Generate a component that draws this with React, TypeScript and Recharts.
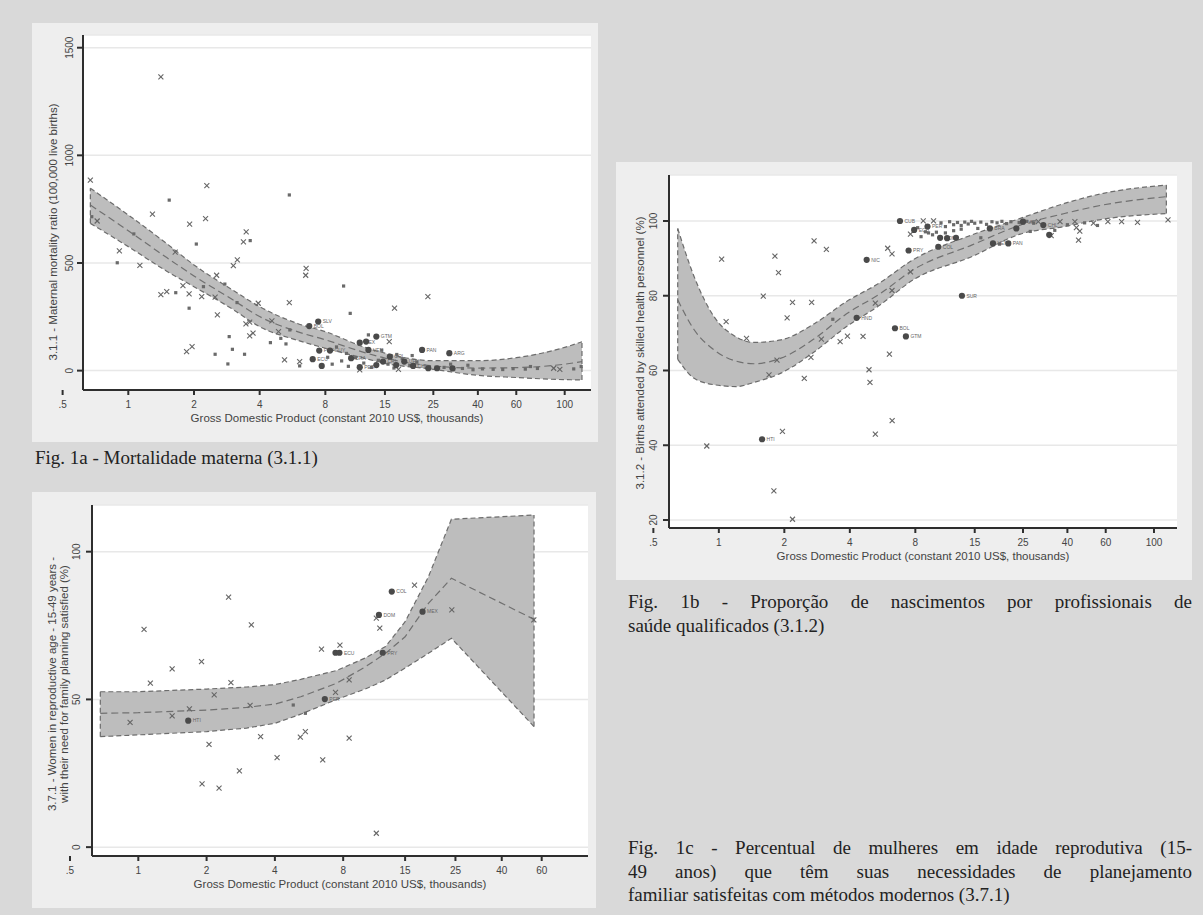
import { ComposedChart, Area, Line, Scatter, XAxis, YAxis, CartesianGrid, ReferenceLine } from "recharts";

const SANS = '"Liberation Sans", Arial, sans-serif';
const SERIF = '"Liberation Serif", "Times New Roman", serif';

const gdpTicks = [0.5, 1, 2, 4, 8, 15, 25, 40, 60, 100];
const gdpTicksShort = [0.5, 1, 2, 4, 8, 15, 25, 40, 60];
const gdpTitle = "Gross Domestic Product (constant 2010 US$, thousands)";

// Fig 1a - 3.1.1 maternal mortality ratio
const mmrTicks = [0, 500, 1000, 1500];
const mmrTitle = ["3.1.1 - Maternal mortality ratio (100,000 live births)"];
const mmrCrosses: [number, number][] = [
  [0.67, 885], [1.41, 1365], [0.72, 695], [2.29, 859], [1.29, 727], [2.26, 706], [1.91, 681], [3.47, 645],
  [3.37, 598], [0.91, 556], [1.13, 489], [1.64, 550], [3.16, 514], [3.03, 488], [2.54, 443], [1.78, 395],
  [1.41, 353], [1.5, 367], [1.9, 356], [2.17, 344], [2.5, 341], [3.94, 313], [2.56, 259], [3.46, 217],
  [3.6, 225], [4.55, 231], [3.6, 161], [3.73, 174], [4.88, 181], [6.53, 475], [6.5, 443], [5.47, 316],
  [1.85, 88], [1.96, 111], [5.2, 50], [6.1, 42], [16.6, 290], [23.6, 344], [15.7, 135], [17.3, 6],
  [11.5, 3], [89, 11], [95, 6],
];
const mmrSquares: [number, number][] = [
  [0.68, 715], [1.54, 792], [5.47, 816], [1.06, 635], [3.62, 604], [2.05, 588], [0.89, 501], [2.77, 402],
  [1.65, 362], [2.21, 390], [3.15, 316], [1.9, 290], [2.9, 158], [4.48, 130], [5.0, 150], [5.28, 124],
  [5.5, 189], [2.5, 76], [3.0, 99], [3.41, 76], [2.86, 31], [9.7, 393], [10.4, 266], [6.1, 22], [12.6, 166],
  [8.6, 30], [9.5, 45], [10.2, 20], [11, 60], [12, 35], [13, 15], [14, 48], [15.5, 30], [16.5, 12],
  [18, 55], [19.5, 25], [21, 40], [24, 18], [26, 8], [28, 15], [31, 5], [34, 10], [38, 4], [42, 8],
  [47, 6], [52, 5], [58, 9], [66, 7], [75, 10], [110, 8], [9, 110], [10, 80], [14.5, 95], [17, 75],
  [20, 70], [8.2, 62], [12.5, 100], [30, 30], [36, 25], [69.7, 19], [119, 19],
];
const mmrDots: [number, number, string][] = [
  [7.42, 228, "SLV"], [6.75, 207, "BOL"], [7.5, 93, "PRY"], [8.4, 93, "GUY"], [7.0, 53, "ECU"], [7.7, 22, ""],
  [11.5, 130, "MEX"], [12.3, 135, ""], [13.7, 158, "GTM"], [10.5, 58, "BRA"], [11.5, 16, "PER"], [12.6, 96, "VEN"],
  [13.7, 26, ""], [14.7, 42, "CRI"], [15.8, 65, "COL"], [16.9, 26, ""], [18.4, 42, "URY"], [20.2, 22, "CHL"],
  [22.2, 96, "PAN"], [29.6, 81, "ARG"], [23.7, 11, ""], [26, 11, ""], [30.6, 11, ""],
];
const mmrFitX = [0.67, 1.0, 1.5, 2.0, 3.0, 4.0, 6.0, 8.0, 12, 15, 25, 40, 60, 100, 120];
const mmrFitLo = [684, 576, 462, 390, 286, 204, 140, 104, 58, 34, 6, -22, -32, -42, -43];
const mmrFitMid = [769, 650, 525, 440, 330, 251, 180, 143, 85, 58, 22, 12, 14, 30, 42];
const mmrFitHi = [847, 723, 590, 491, 375, 297, 218, 181, 110, 81, 46, 46, 60, 108, 134];

// Fig 1b - 3.1.2 skilled birth attendance
const sbaTicks = [20, 40, 60, 80, 100];
const sbaTitle = ["3.1.2 - Births attended by skilled health personnel (%)"];
const sbaCrosses: [number, number][] = [
  [0.88, 39.8], [1.03, 89.8], [1.08, 73.1], [1.34, 68.6], [1.6, 79.9], [1.81, 90.6], [1.88, 86.2], [1.79, 27.8],
  [2.18, 20.2], [1.96, 43.7], [2.06, 74.1], [1.85, 62.8], [1.7, 58.8], [2.18, 78.2], [2.47, 57.9], [2.67, 78.2],
  [2.74, 94.7], [3.12, 92.4], [2.65, 63.5], [2.96, 68.4], [3.61, 67.7], [3.9, 69.2], [4.6, 69.1], [4.9, 60.2],
  [4.95, 56.8], [5.24, 43.0], [5.24, 78.0], [6.08, 64.4], [6.26, 46.6], [6.25, 81.4], [5.97, 92.7], [6.25, 91.2],
  [7.6, 96.5], [7.6, 86.4], [8.7, 100], [9.7, 100], [29.4, 99.8], [33.7, 96.1], [37, 99.8], [43.3, 99.8],
  [44, 98.2], [45, 94.9], [45.6, 97.3], [52.7, 99.4], [61.4, 99.8], [71, 99.8], [84, 99.6], [116, 100.3],
];
const sbaSquares: [number, number][] = [
  [3.34, 73.7], [8.9, 97.1], [9.6, 96.3], [10.5, 99.5], [11, 98.5], [11.5, 99.8], [12, 99], [12.5, 99.6],
  [13, 98.8], [13.5, 99.7], [14, 99.2], [14.5, 99.9], [15, 99.4], [16, 99.7], [17, 99.1], [18, 99.8],
  [19, 99.5], [20, 99.9], [21, 99.3], [22, 99.8], [24, 99.6], [26, 99.9], [28, 99.4], [10, 97],
  [11, 96.8], [12, 97.4], [13, 97.8], [15.5, 98], [8.2, 98.2], [8.5, 95.8], [9.2, 96.8], [35, 97.5],
  [40, 99], [48, 99.5], [55, 98.8], [16, 95.5], [19.5, 93.8], [27, 97.2],
];
const sbaDots: [number, number, string][] = [
  [1.58, 41.6, "HTI"], [4.3, 74.1, "HND"], [4.78, 89.6, "NIC"], [6.45, 71.3, "BOL"], [7.24, 69.1, "GTM"],
  [6.8, 100, "CUB"], [7.45, 92.1, "PRY"], [7.9, 97.6, "ECU"], [13.1, 80, "SUR"], [9.1, 98.5, "PER"],
  [10.4, 95.5, "DOM"], [10.2, 93.1, "COL"], [11.2, 95.4, ""], [12.3, 95.5, ""], [18.2, 94, "VEN"],
  [21.4, 94, "PAN"], [17.6, 98, "BRA"], [23.3, 98, ""], [25, 99.8, "URY"], [31, 98.9, "CHL"], [33, 96.3, ""],
];
const sbaFitX = [0.647, 0.77, 0.95, 1.2, 1.45, 1.93, 2.76, 3.85, 5.5, 7.8, 14.6, 24.3, 38.8, 58.5, 114];
const sbaFitLo = [63.0, 57.9, 56.2, 55.7, 56.8, 59.3, 65.1, 71.7, 77.5, 84.2, 90.5, 96.5, 98.5, 100.5, 102];
const sbaFitMid = [78.9, 70.9, 65.5, 62.5, 61.8, 63.3, 68.6, 75.1, 80.5, 86.9, 93.6, 98.9, 102, 104.3, 106.5];
const sbaFitHi = [98.0, 85.1, 74.4, 69.0, 67.5, 68.2, 72.6, 78.4, 83.5, 89.6, 96.3, 100.7, 104.7, 107.4, 109.6];

// Fig 1c - 3.7.1 family planning satisfied
const fpTicks = [0, 50, 100];
const fpTitle = ["3.7.1 - Women in reproductive age - 15-49 years -", "with their need for family planning satisfied (%)"];
const fpCrosses: [number, number][] = [
  [0.92, 42.2], [1.06, 73.7], [1.13, 55.5], [1.41, 60.3], [1.41, 44.4], [1.68, 46.8], [1.9, 62.8], [1.91, 21.4],
  [2.05, 34.8], [2.16, 51.5], [2.27, 20.0], [2.5, 84.6], [2.56, 55.7], [2.79, 25.8], [3.11, 48.0], [3.15, 75.2],
  [3.46, 37.4], [4.09, 30.3], [5.18, 37.2], [5.45, 39.1], [6.42, 67.0], [6.5, 29.5], [7.74, 68.4], [7.4, 52.4],
  [8.5, 36.9], [8.5, 56.6], [11.2, 4.7], [11.6, 74.1], [11.2, 77.5], [16.5, 88.7], [24.1, 80.3], [55.4, 76.9],
];
const fpSquares: [number, number][] = [[4.82, 48.1], [5.45, 45.3]];
const fpDots: [number, number, string][] = [
  [1.66, 42.8, "HTI"], [6.64, 50.1, "PER"], [7.4, 65.8, ""], [7.7, 65.8, "ECU"], [11.95, 65.8, "PRY"],
  [11.5, 78.6, "DOM"], [13.1, 86.5, "COL"], [17.9, 79.7, "MEX"],
];
const fpFitX = [0.68, 1.0, 2.0, 3.0, 4.0, 5.2, 7.5, 10, 12.3, 15, 19, 24, 55.5];
const fpFitLo = [37.4, 38.0, 39.1, 40.3, 41.9, 45.0, 50.0, 53.5, 56.6, 60.6, 65.6, 70.7, 40.8];
const fpFitMid = [45.3, 45.5, 46.4, 47.3, 48.4, 50.9, 55.5, 61, 65.6, 71.2, 82.5, 91.0, 77.1];
const fpFitHi = [52.6, 52.6, 53.5, 54.2, 55.0, 56.8, 59.8, 64, 67.9, 76.3, 91.5, 111, 112.4];

const captionA = ["Fig. 1a - Mortalidade materna (3.1.1)"];
const captionB = ["Fig. 1b - Proporção de nascimentos por profissionais de", "saúde qualificados (3.1.2)"];
const captionC = [
  "Fig. 1c - Percentual de mulheres em idade reprodutiva (15-",
  "49 anos) que têm suas necessidades de planejamento",
  "familiar satisfeitas com métodos modernos (3.7.1)",
];

type Pt = { x: number; y: number; label: string };
type FitPt = { x: number; lo: number; mid: number; hi: number };

const pts = (rows: (number | string)[][]): Pt[] =>
  rows.map((r) => ({ x: r[0] as number, y: r[1] as number, label: (r[2] as string) || "" }));
const fitRows = (xs: number[], lo: number[], mid: number[], hi: number[]): FitPt[] =>
  xs.map((x, i) => ({ x, lo: lo[i], mid: mid[i], hi: hi[i] }));

const fmtGdp = (v: number) => (v === 0.5 ? ".5" : String(v));

const CrossMark = (props: any) => {
  const { cx, cy } = props;
  const s = 2.5;
  return (
    <g stroke="#666" strokeWidth={1.1}>
      <line x1={cx - s} y1={cy - s} x2={cx + s} y2={cy + s} />
      <line x1={cx - s} y1={cy + s} x2={cx + s} y2={cy - s} />
    </g>
  );
};

const SquareMark = (props: any) => {
  const { cx, cy } = props;
  return <rect x={cx - 1.6} y={cy - 1.6} width={3.2} height={3.2} fill="#6a6a6a" />;
};

const DotMark = (props: any) => {
  const { cx, cy, payload } = props;
  return (
    <g>
      <circle cx={cx} cy={cy} r={3.1} fill="#4a4a4a" />
      {payload.label && (
        <text x={cx + 4.5} y={cy + 1.8} fontSize={5} fill="#666" fontFamily={SANS}>{payload.label}</text>
      )}
    </g>
  );
};

const VTick = (props: any) => {
  const { y, payload, bx } = props;
  return (
    <text x={bx} y={y} transform={`rotate(-90 ${bx} ${y})`} textAnchor="middle" fontSize={10} fill="#444" fontFamily={SANS}>
      {payload.value}
    </text>
  );
};

const XH = 52;

interface PanelProps {
  left: number;
  top: number;
  width: number;
  height: number;
  padTop: number;
  padRight: number;
  yWidth: number;
  tickX: number;
  titleX: number;
  titleY: number;
  title: string[];
  xDomain: [number, number];
  yDomain: [number, number];
  xTicks: number[];
  yTicks: number[];
  crosses: Pt[];
  squares: Pt[];
  dots: Pt[];
  fit: FitPt[];
  curve: "monotone" | "linear";
}

const Panel = (p: PanelProps) => {
  const plotBottom = p.height - XH;
  const plotMid = (p.yWidth + p.width - p.padRight) / 2;
  const first = p.fit[0];
  const last = p.fit[p.fit.length - 1];
  const edge = { stroke: "#6c6c6c", strokeWidth: 1.2, strokeDasharray: "5 3" };
  return (
    <div style={{ position: "absolute", left: p.left, top: p.top, width: p.width, height: p.height, background: "#eeeeee" }}>
      <ComposedChart width={p.width} height={p.height} margin={{ top: p.padTop, right: p.padRight, bottom: 0, left: 0 }}>
        <CartesianGrid vertical={false} fill="#ffffff" stroke="#e8e8e8" strokeWidth={1.5} />
        <XAxis
          dataKey="x"
          type="number"
          scale="log"
          domain={p.xDomain}
          allowDataOverflow
          ticks={p.xTicks}
          interval={0}
          height={XH}
          tickSize={5}
          tickMargin={6}
          tickFormatter={fmtGdp}
          stroke="#2e2e2e"
          strokeWidth={2}
          tick={{ fontSize: 10, fill: "#444", fontFamily: SANS }}
          label={{
            content: () => (
              <text x={plotMid} y={plotBottom + 32} textAnchor="middle" fontSize={11.5} fill="#444" fontFamily={SANS}>
                {gdpTitle}
              </text>
            ),
          }}
        />
        <YAxis
          dataKey="y"
          type="number"
          domain={p.yDomain}
          allowDataOverflow
          ticks={p.yTicks}
          interval={0}
          width={p.yWidth}
          tickSize={6}
          stroke="#2e2e2e"
          strokeWidth={2}
          tick={(t: any) => <VTick {...t} bx={p.tickX} />}
          label={{
            content: () => (
              <text transform={`translate(${p.titleX},${p.titleY}) rotate(-90)`} textAnchor="middle" fontSize={11.5} fill="#444" fontFamily={SANS}>
                {p.title.map((l, i) => (
                  <tspan key={i} x={0} dy={i === 0 ? 0 : 12}>{l}</tspan>
                ))}
              </text>
            ),
          }}
        />
        <Area data={p.fit} dataKey={(d: FitPt) => [d.lo, d.hi]} type={p.curve} fill="#bdbdbd" fillOpacity={1} stroke="none" isAnimationActive={false} />
        <Line data={p.fit} dataKey="lo" type={p.curve} dot={false} activeDot={false} isAnimationActive={false} {...edge} />
        <Line data={p.fit} dataKey="hi" type={p.curve} dot={false} activeDot={false} isAnimationActive={false} {...edge} />
        <Line data={p.fit} dataKey="mid" type={p.curve} dot={false} activeDot={false} isAnimationActive={false} stroke="#707070" strokeWidth={1.2} strokeDasharray="7 4" />
        <ReferenceLine segment={[{ x: first.x, y: first.lo }, { x: first.x, y: first.hi }]} ifOverflow="visible" {...edge} />
        <ReferenceLine segment={[{ x: last.x, y: last.lo }, { x: last.x, y: last.hi }]} ifOverflow="visible" {...edge} />
        <Scatter data={p.crosses} shape={CrossMark} isAnimationActive={false} />
        <Scatter data={p.squares} shape={SquareMark} isAnimationActive={false} />
        <Scatter data={p.dots} shape={DotMark} isAnimationActive={false} />
      </ComposedChart>
    </div>
  );
};

const Caption = ({ left, top, width, lines }: { left: number; top: number; width: number; lines: string[] }) => (
  <div style={{ position: "absolute", left, top, width, fontFamily: SERIF, fontSize: 19, lineHeight: "23.5px", color: "#222" }}>
    {lines.map((l, i) => (
      <div key={i} style={{ textAlign: "justify", textAlignLast: i < lines.length - 1 ? "justify" : "left" }}>{l}</div>
    ))}
  </div>
);

const App = () => (
  <div style={{ position: "absolute", left: 0, top: 0, width: 1203, height: 915, background: "#d9d9d9", overflow: "hidden" }}>
    <Panel
      left={32} top={23} width={566} height={419} padTop={12} padRight={7} yWidth={51}
      tickX={40.6} titleX={25.1} titleY={209} title={mmrTitle}
      xDomain={[0.62, 132]} yDomain={[-90, 1559]} xTicks={gdpTicks} yTicks={mmrTicks}
      crosses={pts(mmrCrosses)} squares={pts(mmrSquares)} dots={pts(mmrDots)}
      fit={fitRows(mmrFitX, mmrFitLo, mmrFitMid, mmrFitHi)} curve="monotone"
    />
    <Panel
      left={616} top={162} width={576} height={418} padTop={13} padRight={15} yWidth={53}
      tickX={41} titleX={28.1} titleY={191} title={sbaTitle}
      xDomain={[0.59, 127.6]} yDomain={[17.86, 112.3]} xTicks={gdpTicks} yTicks={sbaTicks}
      crosses={pts(sbaCrosses)} squares={pts(sbaSquares)} dots={pts(sbaDots)}
      fit={fitRows(sbaFitX, sbaFitLo, sbaFitMid, sbaFitHi)} curve="monotone"
    />
    <Panel
      left={32} top={492} width={564} height={416} padTop={13} padRight={8} yWidth={60}
      tickX={48} titleX={23.5} titleY={192} title={fpTitle}
      xDomain={[0.625, 96]} yDomain={[-3, 115.8]} xTicks={gdpTicksShort} yTicks={fpTicks}
      crosses={pts(fpCrosses)} squares={pts(fpSquares)} dots={pts(fpDots)}
      fit={fitRows(fpFitX, fpFitLo, fpFitMid, fpFitHi)} curve="linear"
    />
    <Caption left={35} top={446} width={560} lines={captionA} />
    <Caption left={628} top={590} width={564} lines={captionB} />
    <Caption left={628} top={836} width={564} lines={captionC} />
  </div>
);

export default App;
